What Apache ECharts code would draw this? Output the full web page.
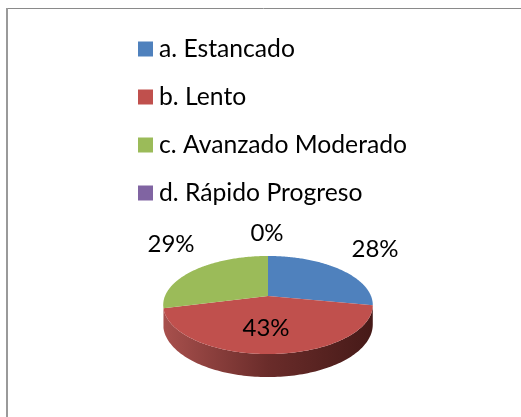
<!DOCTYPE html>
<html>
<head>
<meta charset="utf-8">
<style>html,body{margin:0;padding:0;background:#fff}#c{width:521px;height:417px}</style>
<script src="https://cdn.jsdelivr.net/npm/echarts@6/dist/echarts.min.js"></script>
</head>
<body>
<div id="c"></div>
<script>
const categories = ['a. Estancado', 'b. Lento', 'c. Avanzado Moderado', 'd. Rápido Progreso'];
const values = [28, 43, 29, 0];
const colors = ['#4f81bd', '#c0504d', '#9bbb59', '#8064a2'];
const wallColors = [['#2f4d71', '#2f4d71'], ['#a8504d', '#461a18'], ['#6f8a3c', '#6f8a3c'], ['#4c3c61', '#4c3c61']];
const labelPositions = [[375, 249], [266, 328], [171, 244], [267, 233]];

const total = values.reduce((a, b) => a + b, 0);
// Perspective projection of the pie's disc onto the page
const C = -0.1837, A = -7, CY = 296, CX = 268, D = 103, DEPTH = 18.8;
function project(theta, r) {
  const u = Math.sin(theta) * r, v = -Math.cos(theta) * r, w = 1 + C * v;
  return [CX + D * u / w, (A * v + CY) / w, DEPTH / w];
}
function arc(a0, a1, steps) {
  const pts = [];
  for (let i = 0; i <= steps; i++) pts.push(project(a0 + (a1 - a0) * i / steps, 1));
  return pts;
}
const chart = echarts.init(document.getElementById('c'), null, { renderer: 'canvas' });

function sliceAngles(idx) {
  let s = 0;
  for (let i = 0; i < idx; i++) s += values[i];
  return [s / total * Math.PI * 2, (s + values[idx]) / total * Math.PI * 2];
}
const series = categories.map((name, idx) => ({
  type: 'custom',
  name,
  coordinateSystem: 'none',
  silent: true,
  z: 2,
  data: [[values[idx]]],
  itemStyle: { color: colors[idx] },
  renderItem: () => {
    const [a0, a1] = sliceAngles(idx);
    const children = [];
    if (a1 > a0) {
      const rim = arc(a0, a1, 120);
      // visible wall: the part of the rim on the viewer's side
      const front = rim.filter(p => p[1] >= project(Math.PI / 2, 1)[1] - 0.5 && idx === 1);
      if (front.length > 1) {
        const wall = front.map(p => [p[0], p[1]]).concat(front.slice().reverse().map(p => [p[0], p[1] + p[2]]));
        children.push({
          type: 'polygon', z2: 1,
          shape: { points: wall },
          style: {
            fill: new echarts.graphic.LinearGradient(0, 0, 1, 0, [
              { offset: 0, color: wallColors[idx][0] },
              { offset: 0.5, color: '#6a2c2a' },
              { offset: 1, color: wallColors[idx][1] }
            ])
          }
        });
      }
      const top = rim.map(p => [p[0], p[1]]);
      top.push(project(0, 0).slice(0, 2));
      children.push({ type: 'polygon', z2: 2, shape: { points: top }, style: { fill: colors[idx] } });
    }
    children.push({
      type: 'text', z2: 5,
      style: {
        x: labelPositions[idx][0], y: labelPositions[idx][1],
        text: Math.round(values[idx] / total * 100) + '%',
        fill: '#000', font: '24px Lato, sans-serif',
        align: 'center', verticalAlign: 'middle'
      }
    });
    return { type: 'group', children };
  }
}));

chart.setOption({
  animation: false,
  backgroundColor: '#ffffff',
  legend: {
    orient: 'vertical',
    left: 138,
    top: 36,
    icon: 'rect',
    itemWidth: 15,
    itemHeight: 15,
    itemGap: 22,
    selectedMode: false,
    data: categories,
    textStyle: { fontFamily: 'Lato, sans-serif', fontSize: 24.7, color: '#000', padding: [0, 0, 0, 1], lineHeight: 26 },
    padding: 0
  },
  graphic: [
    { type: 'line', silent: true, shape: { x1: 6, y1: 8.5, x2: 521, y2: 8.5 }, style: { stroke: '#8a8a8a', lineWidth: 1 } },
    { type: 'line', silent: true, shape: { x1: 7, y1: 8, x2: 7, y2: 417 }, style: { stroke: '#9a9a9a', lineWidth: 2 } }
  ],
  series
});
</script>
</body>
</html>
